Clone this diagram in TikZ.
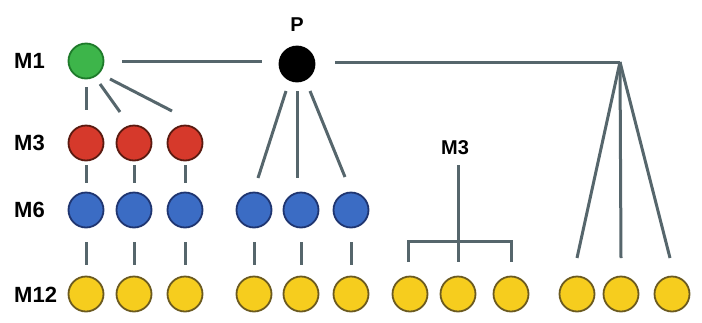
\documentclass[tikz,border=0pt]{standalone}
\usepackage{fontspec}
\setmainfont{Liberation Sans}
\begin{document}
\begin{tikzpicture}[x=1pt,y=-1pt,
  ball/.style={circle,inner sep=0pt,minimum size=35pt,line width=1.8pt},
  gball/.style={ball,fill={rgb,255:red,61;green,181;blue,74},draw={rgb,255:red,30;green,122;blue,42}},
  pball/.style={ball,fill=black,draw=black},
  rball/.style={ball,fill={rgb,255:red,214;green,57;blue,43},draw={rgb,255:red,90;green,26;blue,16}},
  bball/.style={ball,fill={rgb,255:red,59;green,108;blue,196},draw={rgb,255:red,31;green,53;blue,112}},
  yball/.style={ball,fill={rgb,255:red,246;green,205;blue,30},draw={rgb,255:red,107;green,90;blue,32}},
  lvl/.style={font=\bfseries\fontsize{22}{23}\selectfont,anchor=west,inner sep=0pt},
  link/.style={draw={rgb,255:red,86;green,102;blue,108},line width=3pt}]
\useasboundingbox (0,0) rectangle (702,322);

% level labels
\node[lvl] (l1) at (14,61) {M1};
\node[lvl] (l3) at (14,143) {M3};
\node[lvl] (l6) at (14,210) {M6};
\node[lvl] (l12) at (14,295) {M12};

% top nodes
\node[gball] (g) at (86,61) {};
\node[pball] (p) at (297,64) {};
\node[font=\bfseries\fontsize{20}{21}\selectfont,inner sep=0pt] (plabel) at (297,25) {P};
\coordinate (apex) at (620,62);

% M3 row
\node[rball] (r1) at (86,143) {};
\node[rball] (r2) at (134,143) {};
\node[rball] (r3) at (185,143) {};

% M6 row
\foreach \i/\x in {1/86,2/134,3/185,4/254,5/301,6/351}
  \node[bball] (b\i) at (\x,210) {};

% M12 row
\foreach \i/\x in {1/86,2/134,3/185,4/254,5/301,6/351,7/410,8/458,9/511,10/577,11/621,12/672}
  \node[yball] (y\i) at (\x,294) {};

% right-hand M3 label
\node[font=\bfseries\fontsize{20}{21}\selectfont,inner sep=0pt] (m3) at (455,148) {M3};

% connectors
\draw[link] ([shift={(36,0)}]g.center) -- ([shift={(-35,-3)}]p.center);
\draw[link] ([shift={(38,-2)}]p.center) -- (apex);

\draw[link] ([shift={(0,26)}]g.center) -- ([shift={(0,-33)}]r1.center);
\draw[link] ([shift={(14,23)}]g.center) -- ([shift={(-14,-31)}]r2.center);
\draw[link] ([shift={(24,18)}]g.center) -- ([shift={(-13,-32)}]r3.center);

\foreach \i in {1,2,3}
  \draw[link] ([shift={(0,22)}]r\i.center) -- ([shift={(0,-27)}]b\i.center);

\draw[link] ([shift={(-11,27)}]p.center) -- ([shift={(4,-32)}]b4.center);
\draw[link] ([shift={(0,27)}]p.center) -- ([shift={(-4,-32)}]b5.center);
\draw[link] ([shift={(13,27)}]p.center) -- ([shift={(-6,-33)}]b6.center);

\foreach \i in {1,...,6}
  \draw[link] ([shift={(0,32)}]b\i.center) -- ([shift={(0,-29)}]y\i.center);

\draw[link] ([shift={(3,17)}]m3.center) -- ([shift={(0,-32)}]y8.center);
\draw[link] ([shift={(-2,-32)}]y7.center) -- ++(0,-21) -| ([shift={(0,-32)}]y9.center);

\draw[link] (apex) -- ([shift={(0,-36)}]y10.center);
\draw[link] (apex) -- ([shift={(0,-36)}]y11.center);
\draw[link] (apex) -- ([shift={(-2,-36)}]y12.center);
\end{tikzpicture}
\end{document}
